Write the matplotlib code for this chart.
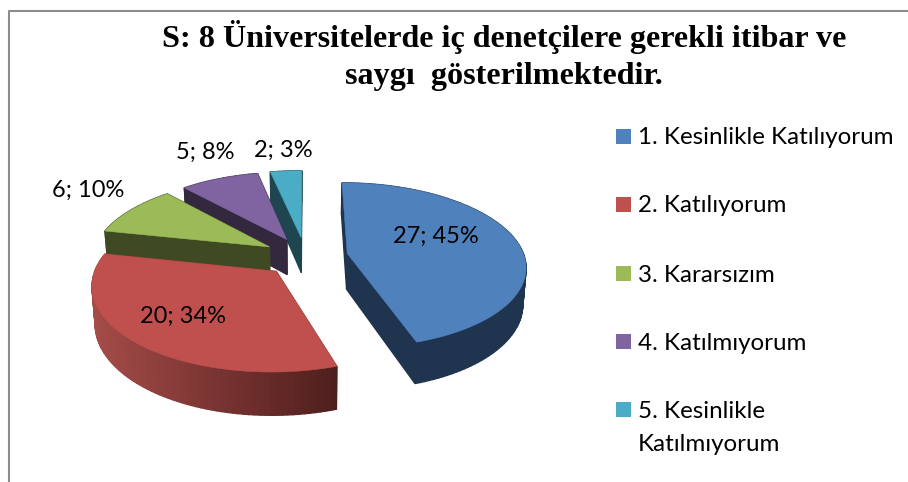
import numpy as np
import matplotlib
matplotlib.use("Agg")
import matplotlib.pyplot as plt
from matplotlib.patches import Polygon, Rectangle
from matplotlib.lines import Line2D

# ---- data ----
categories = ["1. Kesinlikle Katılıyorum", "2. Katılıyorum", "3. Kararsızım",
              "4. Katılmıyorum", "5. Kesinlikle\nKatılmıyorum"]
values = [27, 20, 6, 5, 2]
percents = [45, 34, 10, 8, 3]
title = "S: 8 Üniversitelerde iç denetçilere gerekli itibar ve\nsaygı  gösterilmektedir."

# ---- style ----
top_colors = ["#4F81BD", "#C0504D", "#9BBB59", "#8064A2", "#4BACC6"]
radial_colors = ["#1F344F", "#8A3A38", "#404A22", "#34283F", "#1E4550"]
rim_light = ["#1F344F", "#A54C48", "#404A22", "#34283F", "#1E4550"]
rim_dark = ["#1F344F", "#4E1E1D", "#404A22", "#34283F", "#1E4550"]
label_pos = [(436, 236), (183, 316), (88, 190), (205, 152), (283, 150)]
legend_y = [136.5, 204.5, 273.5, 341.5, 409.5]

W, H = 908, 482
CX, CY = 305.5, 256.5
R, A, K = 177.0, 81.5, 0.143
EXPL = 0.24
DEPTH = 36.0


def project(X, Y, drop=False):
    s = 1.0 / (1.0 + K * Y)
    x = CX + R * X * s
    y = CY - A * Y * s
    if drop:
        x = CX + (x - CX) * 0.985
        y = y + DEPTH * s
    return x, y


def hex_rgb(c):
    return np.array(matplotlib.colors.to_rgb(c))


fig = plt.figure(figsize=(W / 100, H / 100), dpi=100)
ax = fig.add_axes([0, 0, 1, 1])
ax.set_xlim(0, W)
ax.set_ylim(H, 0)
ax.axis("off")

# chart frame (top and left edges remain in the crop)
ax.add_line(Line2D([9, 9, W], [H, 11, 11], color="#8C8C8C", lw=1.5))

fracs = np.array(values) / sum(values)
edges = np.concatenate([[0], np.cumsum(fracs)]) * 360.0

# back-to-front drawing order
order = [4, 3, 2, 0, 1]
for i in order:
    t0, t1 = np.radians(edges[i]), np.radians(edges[i + 1])
    mid = (t0 + t1) / 2
    ox, oy = EXPL * np.sin(mid), EXPL * np.cos(mid)
    th = np.linspace(t0, t1, max(int(np.degrees(t1 - t0) / 1.5), 4))
    rx, ry = ox + np.sin(th), oy + np.cos(th)

    faces = []
    for a in (0, -1):
        xs = np.array([ox, rx[a]])
        ys = np.array([oy, ry[a]])
        px, py = project(xs, ys)
        qx, qy = project(xs, ys, drop=True)
        faces.append((np.mean(ys), list(zip(px, py)) + list(zip(qx[::-1], qy[::-1])),
                      radial_colors[i]))
    px, py = project(rx, ry)
    qx, qy = project(rx, ry, drop=True)
    xl, xr = px.min(), px.max()
    for j in range(len(th) - 1):
        f = ((px[j] + px[j + 1]) / 2 - xl) / max(xr - xl, 1)
        c = hex_rgb(rim_light[i]) * (1 - f) + hex_rgb(rim_dark[i]) * f
        quad = [(px[j], py[j]), (px[j + 1], py[j + 1]), (qx[j + 1], qy[j + 1]), (qx[j], qy[j])]
        faces.append(((ry[j] + ry[j + 1]) / 2, quad, c))
    for _, pts, c in sorted(faces, key=lambda t: -t[0]):
        ax.add_patch(Polygon(pts, closed=True, facecolor=c, edgecolor=c, lw=1.0))

    ax0, ay0 = project(np.array([ox]), np.array([oy]))
    top = [(ax0[0], ay0[0])] + list(zip(px, py))
    ax.add_patch(Polygon(top, closed=True, facecolor=top_colors[i], edgecolor=top_colors[i], lw=0.4))

# data labels
label_font = dict(family="Lato", fontsize=17, color="black", ha="center", va="center")
for v, p, (lx, ly) in zip(values, percents, label_pos):
    ax.text(lx, ly, f"{v}; {p}%", **label_font)

# legend
for name, c, ly in zip(categories, top_colors, legend_y):
    ax.add_patch(Rectangle((616, ly - 7.5), 15, 15, facecolor=c, edgecolor="none"))
    ax.text(638, ly - 9, name, family="Lato", fontsize=17.4, color="black",
            ha="left", va="top", linespacing=1.72)

ax.text(504, 55.5, title, family="Liberation Serif", fontweight="bold", fontsize=23.1,
        color="black", ha="center", va="center", linespacing=1.38)

fig.savefig("out.png", dpi=100, facecolor="white")
